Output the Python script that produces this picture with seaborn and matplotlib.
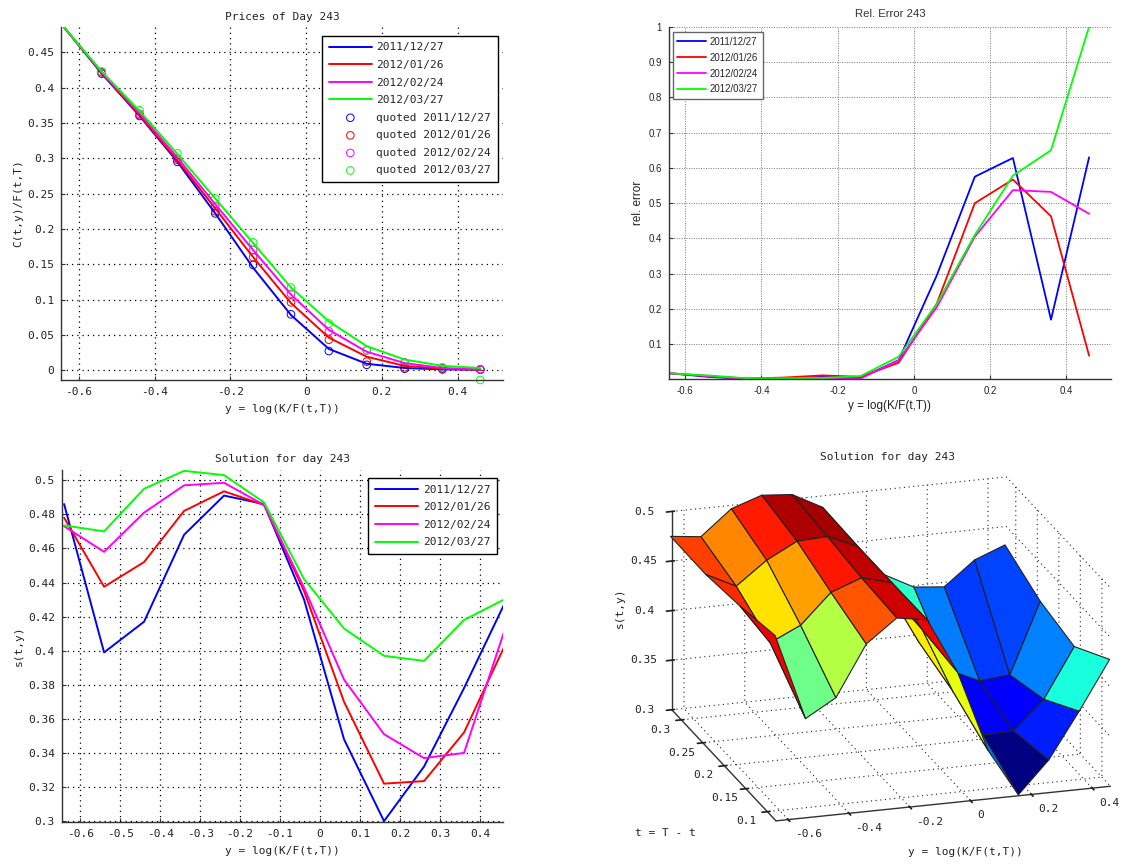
# day 243 prices / rel. error / solution panels

import numpy as np
import matplotlib
matplotlib.use("Agg")
import matplotlib.pyplot as plt
import seaborn as sns
from matplotlib import cm
from matplotlib.colors import Normalize

# ========================
# data
# ========================

datas = ['2011/12/27', '2012/01/26', '2012/02/24', '2012/03/27']
cores = ['#0000ff', '#ff0000', '#ff00ff', '#00ff00']

y_log = [-0.64, -0.54, -0.44, -0.34, -0.24, -0.14, -0.04, 0.06, 0.16, 0.26, 0.36, 0.46]
t_mat = [0.082, 0.164, 0.243, 0.325]

precos = [
    [0.486, 0.420, 0.360, 0.295, 0.222, 0.145, 0.078, 0.030, 0.009, 0.003, 0.001, 0.0005],
    [0.486, 0.421, 0.361, 0.297, 0.229, 0.160, 0.095, 0.046, 0.019, 0.006, 0.002, 0.0005],
    [0.486, 0.422, 0.364, 0.301, 0.235, 0.170, 0.107, 0.057, 0.026, 0.010, 0.003, 0.001],
    [0.486, 0.423, 0.367, 0.306, 0.243, 0.180, 0.117, 0.069, 0.034, 0.015, 0.006, 0.003],
]

y_quoted = [-0.54, -0.44, -0.34, -0.24, -0.14, -0.04, 0.06, 0.16, 0.26, 0.36, 0.46]
quoted = [
    [0.420, 0.360, 0.295, 0.222, 0.149, 0.079, 0.027, 0.0075, 0.002, 0.001, 0.0005],
    [0.422, 0.361, 0.298, 0.225, 0.160, 0.096, 0.043, 0.012, 0.004, 0.002, 0.001],
    [0.422, 0.363, 0.300, 0.232, 0.170, 0.108, 0.055, 0.028, 0.011, 0.003, 0.001],
    [0.423, 0.368, 0.307, 0.243, 0.181, 0.117, 0.066, 0.028, 0.010, 0.004, -0.014],
]

erros = [
    [0.018, 0.008, 0.002, 0.004, 0.008, 0.005, 0.055, 0.295, 0.575, 0.628, 0.170, 0.630],
    [0.018, 0.010, 0.003, 0.006, 0.012, 0.008, 0.048, 0.215, 0.500, 0.567, 0.463, 0.068],
    [0.018, 0.010, 0.002, 0.004, 0.006, 0.003, 0.055, 0.205, 0.405, 0.537, 0.532, 0.470],
    [0.018, 0.012, 0.004, 0.004, 0.005, 0.010, 0.065, 0.215, 0.410, 0.578, 0.650, 1.000],
]

solucao = [
    [0.486, 0.399, 0.417, 0.468, 0.491, 0.486, 0.430, 0.348, 0.300, 0.332, 0.378, 0.427],
    [0.478, 0.4375, 0.452, 0.482, 0.4935, 0.4855, 0.435, 0.370, 0.322, 0.3235, 0.352, 0.402],
    [0.473, 0.458, 0.481, 0.497, 0.4985, 0.4855, 0.437, 0.383, 0.351, 0.337, 0.340, 0.411],
    [0.4735, 0.470, 0.495, 0.5055, 0.503, 0.487, 0.442, 0.413, 0.397, 0.394, 0.418, 0.430],
]

# ========================
# style
# ========================

sns.set_theme(style="white")
plt.rcParams['font.family'] = ['DejaVu Sans Mono']
plt.rcParams['axes.unicode_minus'] = False
plt.rcParams['font.size'] = 8
plt.rcParams['axes.linewidth'] = 1.0
plt.rcParams['xtick.direction'] = 'in'
plt.rcParams['ytick.direction'] = 'in'

W, H = 1128, 865
fig = plt.figure(figsize=(W / 100, H / 100), dpi=100)
PONTOS = (0, (1, 3.2))


def caixa(l, t, r, b):
    return [l / W, 1 - b / H, (r - l) / W, (b - t) / H]


def estilo(ax, xlim, ylim, xt, yt, cor='black', fs=8, fam='DejaVu Sans Mono', lw=0.9, ls=PONTOS, pad=5):
    ax.set_xlim(xlim)
    ax.set_ylim(ylim)
    ax.set_xticks(xt)
    ax.set_yticks(yt)
    ax.set_xticklabels(['%g' % v for v in xt], fontsize=fs, family=fam)
    ax.set_yticklabels(['%g' % v for v in yt], fontsize=fs, family=fam)
    ax.tick_params(length=3, width=0.8, color='#333333', labelcolor='#222222', pad=pad,
                   bottom=True, left=True)
    ax.grid(True, linestyle=ls, color=cor, linewidth=lw)
    ax.set_axisbelow(True)
    sns.despine(ax=ax)
    for lado in ['left', 'bottom']:
        ax.spines[lado].set_color('#333333')


# ========================
# prices
# ========================

ax1 = fig.add_axes(caixa(61, 27, 503, 380))
for i, d in enumerate(datas):
    sns.lineplot(x=y_log, y=precos[i], color=cores[i], lw=1.4, label=d, ax=ax1)
for i, d in enumerate(datas):
    sns.scatterplot(x=y_quoted, y=quoted[i], marker='o', s=30, facecolor='none',
                    edgecolor=cores[i], linewidth=0.7, label='quoted ' + d, ax=ax1, clip_on=False)
estilo(ax1, (-0.6475, 0.52), (-0.014, 0.486),
       [-0.6, -0.4, -0.2, 0, 0.2, 0.4],
       [0, 0.05, 0.1, 0.15, 0.2, 0.25, 0.3, 0.35, 0.4, 0.45])
ax1.set_title('Prices of Day 243', fontsize=8, color='#222222', pad=5)
ax1.set_xlabel('y = log(K/F(t,T))', fontsize=8, color='#222222', labelpad=5)
ax1.set_ylabel('C(t,y)/F(t,T)', fontsize=8, color='#222222', labelpad=3)
ax1.legend(loc='upper left', bbox_to_anchor=(0.5905, 0.975), fontsize=8, fancybox=False, framealpha=1,
           edgecolor='black', borderaxespad=0, labelspacing=0.68, handlelength=3.9, handletextpad=0.4,
           borderpad=0.6)

# ========================
# relative error
# ========================

ax2 = fig.add_axes(caixa(668.7, 26.7, 1111, 379.3))
for i, d in enumerate(datas):
    sns.lineplot(x=y_log, y=erros[i], color=cores[i], lw=1.3, label=d, ax=ax2)
estilo(ax2, (-0.6436, 0.5175), (0.001, 1),
       [-0.6, -0.4, -0.2, 0, 0.2, 0.4],
       [0.1, 0.2, 0.3, 0.4, 0.5, 0.6, 0.7, 0.8, 0.9, 1], cor='#777777', fs=6.9,
       fam='Liberation Sans', lw=0.7, ls=(0, (1, 1.5)))
ax2.set_title('Rel. Error 243', family='Liberation Sans', fontsize=8.2, color='#333333', pad=7)
ax2.set_xlabel('y = log(K/F(t,T))', family='Liberation Sans', fontsize=8.5, color='#222222', labelpad=3)
ax2.set_ylabel('rel. error', family='Liberation Sans', fontsize=8.5, color='#222222', labelpad=3)
ax2.legend(loc='upper left', bbox_to_anchor=(0.01, 0.984), fancybox=False, framealpha=1,
           edgecolor='#666666', borderaxespad=0, labelspacing=0.62, handlelength=3.0,
           handletextpad=0.4, borderpad=0.45, prop={'family': 'Liberation Sans', 'size': 6.9})

# ========================
# solution, 2d
# ========================

ax3 = fig.add_axes(caixa(61.7, 470, 503, 822))
for i, d in enumerate(datas):
    sns.lineplot(x=y_log, y=solucao[i], color=cores[i], lw=1.4, label=d, ax=ax3)
estilo(ax3, (-0.646, 0.4575), (0.2995, 0.506),
       [-0.6, -0.5, -0.4, -0.3, -0.2, -0.1, 0, 0.1, 0.2, 0.3, 0.4],
       [0.3, 0.32, 0.34, 0.36, 0.38, 0.4, 0.42, 0.44, 0.46, 0.48, 0.5])
ax3.set_title('Solution for day 243', fontsize=8, color='#222222', pad=6)
ax3.set_xlabel('y = log(K/F(t,T))', fontsize=8, color='#222222', labelpad=5)
ax3.set_ylabel('s(t,y)', fontsize=8, color='#222222', labelpad=3)
ax3.legend(loc='upper right', bbox_to_anchor=(0.9864, 0.977), fontsize=8, fancybox=False, framealpha=1,
           edgecolor='black', borderaxespad=0, labelspacing=0.68, handlelength=3.9, handletextpad=0.4,
           borderpad=0.6)

# ========================
# solution, surface
# ========================

ax4 = fig.add_axes(caixa(642, 464, 1130, 844), projection='3d', proj_type='ortho')
ax4.set_facecolor('none')
X, Y = np.meshgrid(y_log, t_mat)
Z = np.array(solucao)
norma = Normalize(Z.min(), Z.max())
surf = ax4.plot_surface(X, Y, Z, rstride=1, cstride=1, facecolors=cm.jet(norma(Z)), shade=False,
                        edgecolor='#222222', linewidth=0.8, antialiased=True)
surf.set_clip_on(False)  # the 3d box is wider than the square axes
ax4.view_init(elev=19.4, azim=-107.3)
ax4.set_box_aspect((1, 1, 0.6), zoom=1.375)
ax4.set_xlim(-0.64, 0.46, view_margin=0)
ax4.set_ylim(0.08, 0.322, view_margin=0)
ax4.set_zlim(0.3, 0.5, view_margin=0)
ax4.set_xticks([-0.6, -0.4, -0.2, 0, 0.2, 0.4])
ax4.set_yticks([0.1, 0.15, 0.2, 0.25, 0.3])
ax4.set_zticks([0.3, 0.35, 0.4, 0.45, 0.5])
ax4.set_xticklabels(['-0.6', '-0.4', '-0.2', '0', '0.2', '0.4'], fontsize=8, ha='left', va='bottom')
ax4.set_yticklabels(['0.1', '0.15', '0.2', '0.25', '0.3'], fontsize=8, va='bottom')
ax4.set_zticklabels(['0.3', '0.35', '0.4', '0.45', '0.5'], fontsize=8)
for eixo in [ax4.xaxis, ax4.yaxis, ax4.zaxis]:
    eixo.set_pane_color((1, 1, 1, 0))
    eixo.pane.set_edgecolor('#222222')
    eixo.pane.set_linestyle(':')
    eixo.pane.set_linewidth(0.8)
    eixo._axinfo['grid'].update(color='#222222', linestyle=PONTOS, linewidth=0.8)
    eixo.line.set_color('#333333')
ax4.tick_params(pad=1, colors='#222222')
ax4.zaxis.set_ticks_position('upper')

fig.text(888 / W, 1 - 457 / H, 'Solution for day 243', fontsize=8, color='#222222', ha='center', va='center')
fig.text(965 / W, 1 - 852 / H, 'y = log(K/F(t,T))', fontsize=8, color='#222222', ha='center', va='center')
fig.text(665 / W, 1 - 833 / H, 't = T - t', fontsize=8, color='#222222', ha='center', va='center')
fig.text(620 / W, 1 - 608 / H, 's(t,y)', fontsize=8, color='#222222', rotation=90, ha='center', va='center')

plt.savefig('out.png', dpi=100)
